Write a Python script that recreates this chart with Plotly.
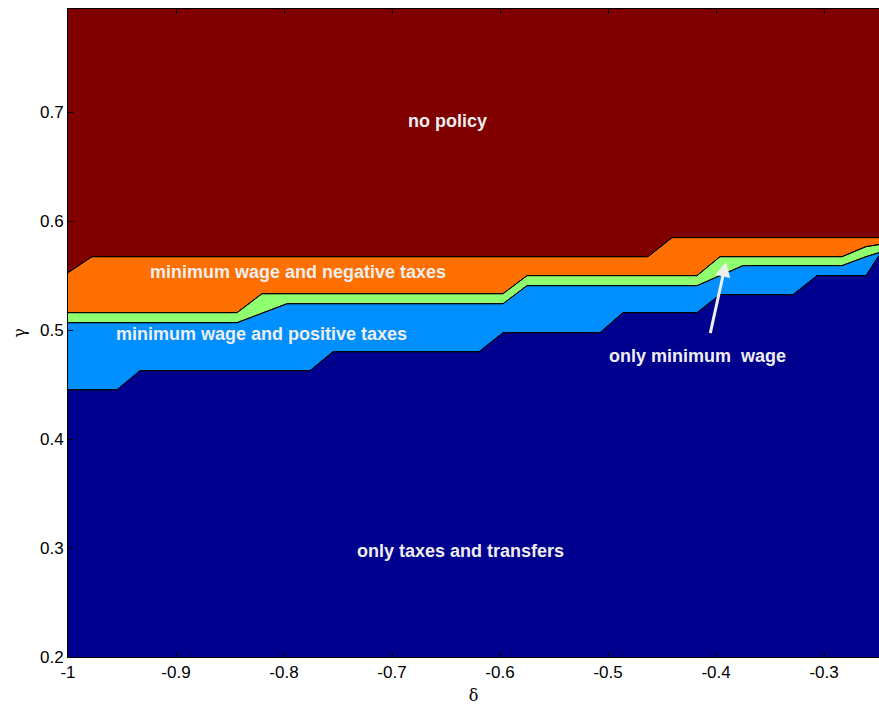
import plotly.graph_objects as go

# boundary between dark blue (only taxes) and light blue (mw + positive taxes)
b1_x = [-1.0, -0.9546, -0.9333, -0.7759, -0.7546, -0.6194, -0.5972, -0.5074, -0.4861, -0.4176, -0.3963, -0.3287, -0.3065, -0.2611, -0.2491]
b1_y = [0.4454, 0.4454, 0.4629, 0.4629, 0.4803, 0.4803, 0.4978, 0.4978, 0.5162, 0.5162, 0.5327, 0.5327, 0.5502, 0.5502, 0.5686]

# boundary between light blue and green (only minimum wage)
b2_x = [-1.0, -0.8435, -0.7972, -0.5972, -0.5750, -0.4176, -0.3750, -0.2833, -0.2611, -0.2491]
b2_y = [0.5070, 0.5070, 0.5244, 0.5244, 0.5410, 0.5410, 0.5594, 0.5594, 0.5676, 0.5713]

# boundary between green and orange (mw + negative taxes)
b3_x = [-1.0, -0.8435, -0.8204, -0.5972, -0.5750, -0.4176, -0.3963, -0.2833, -0.2611, -0.2491]
b3_y = [0.5162, 0.5162, 0.5336, 0.5336, 0.5502, 0.5502, 0.5676, 0.5676, 0.5768, 0.5787]

# boundary between orange and dark red (no policy)
b4_x = [-1.0, -0.9778, -0.4630, -0.4407, -0.2491]
b4_y = [0.5529, 0.5676, 0.5676, 0.5851, 0.5851]

top_x = [-1.0, -0.2491]
top_y = [0.80, 0.80]

x_ticks = [-1, -0.9, -0.8, -0.7, -0.6, -0.5, -0.4, -0.3]
x_tick_text = ["-1", "-0.9", "-0.8", "-0.7", "-0.6", "-0.5", "-0.4", "-0.3"]
y_ticks = [0.2, 0.3, 0.4, 0.5, 0.6, 0.7]
y_tick_text = ["0.2", "0.3", "0.4", "0.5", "0.6", "0.7"]

labels = ["no policy", "minimum wage and negative taxes", "minimum wage and positive taxes",
          "only minimum\u00a0 wage", "only taxes and transfers"]
label_x = [-0.649, -0.787, -0.821, -0.4167, -0.637]
label_y = [0.692, 0.5539, 0.4969, 0.4767, 0.2974]

colors = ["#00008F", "#008FFF", "#8FFF70", "#FF7000", "#800000"]

fig = go.Figure()
fig.add_trace(go.Scatter(x=b1_x, y=b1_y, mode="lines", line=dict(color="black", width=1),
                         fill="tozeroy", fillcolor=colors[0], hoverinfo="skip"))
fig.add_trace(go.Scatter(x=b2_x, y=b2_y, mode="lines", line=dict(color="black", width=1),
                         fill="tonexty", fillcolor=colors[1], hoverinfo="skip"))
fig.add_trace(go.Scatter(x=b3_x, y=b3_y, mode="lines", line=dict(color="black", width=1),
                         fill="tonexty", fillcolor=colors[2], hoverinfo="skip"))
fig.add_trace(go.Scatter(x=b4_x, y=b4_y, mode="lines", line=dict(color="black", width=1),
                         fill="tonexty", fillcolor=colors[3], hoverinfo="skip"))
fig.add_trace(go.Scatter(x=top_x, y=top_y, mode="lines", line=dict(color=colors[4], width=0),
                         fill="tonexty", fillcolor=colors[4], hoverinfo="skip"))

# redraw boundary lines on top so they stay visible
for bx, by in [(b1_x, b1_y), (b2_x, b2_y), (b3_x, b3_y), (b4_x, b4_y)]:
    fig.add_trace(go.Scatter(x=bx, y=by, mode="lines", line=dict(color="black", width=1),
                             hoverinfo="skip"))

for t, lx, ly in zip(labels, label_x, label_y):
    fig.add_annotation(x=lx, y=ly, text="<b>" + t + "</b>", showarrow=False,
                       font=dict(family="Liberation Sans, Arial", size=18, color="#EEEEEE"))

fig.add_annotation(x=-0.3907, y=0.563, ax=-0.4056, ay=0.496, xref="x", yref="y",
                   axref="x", ayref="y", text="", showarrow=True, arrowhead=2,
                   arrowsize=1, arrowwidth=3, arrowcolor="#EEEEEE")

fig.update_layout(
    width=879, height=709,
    margin=dict(l=68, r=0, t=9, b=52),
    paper_bgcolor="white", plot_bgcolor="white",
    showlegend=False,
    font=dict(family="Liberation Sans, Arial", size=17, color="black"),
    xaxis=dict(range=[-1.0, -0.2491], tickvals=x_ticks, ticktext=x_tick_text,
               ticks="inside", ticklen=5, tickcolor="black", showgrid=False, zeroline=False,
               showline=True, linecolor="black", linewidth=1, mirror="allticks",
               title=dict(text="δ", font=dict(family="DejaVu Serif", size=16), standoff=8)),
    yaxis=dict(range=[0.2, 0.795], tickvals=y_ticks, ticktext=y_tick_text,
               ticks="inside", ticklen=5, tickcolor="black", showgrid=False, zeroline=False,
               showline=True, linecolor="black", linewidth=1,
               title=dict(text="γ", font=dict(family="DejaVu Serif", size=16), standoff=10)),
)

fig.write_html("out.html", config={"displayModeBar": False},
               post_script="document.body.style.margin='0px';document.body.style.overflow='hidden';")
